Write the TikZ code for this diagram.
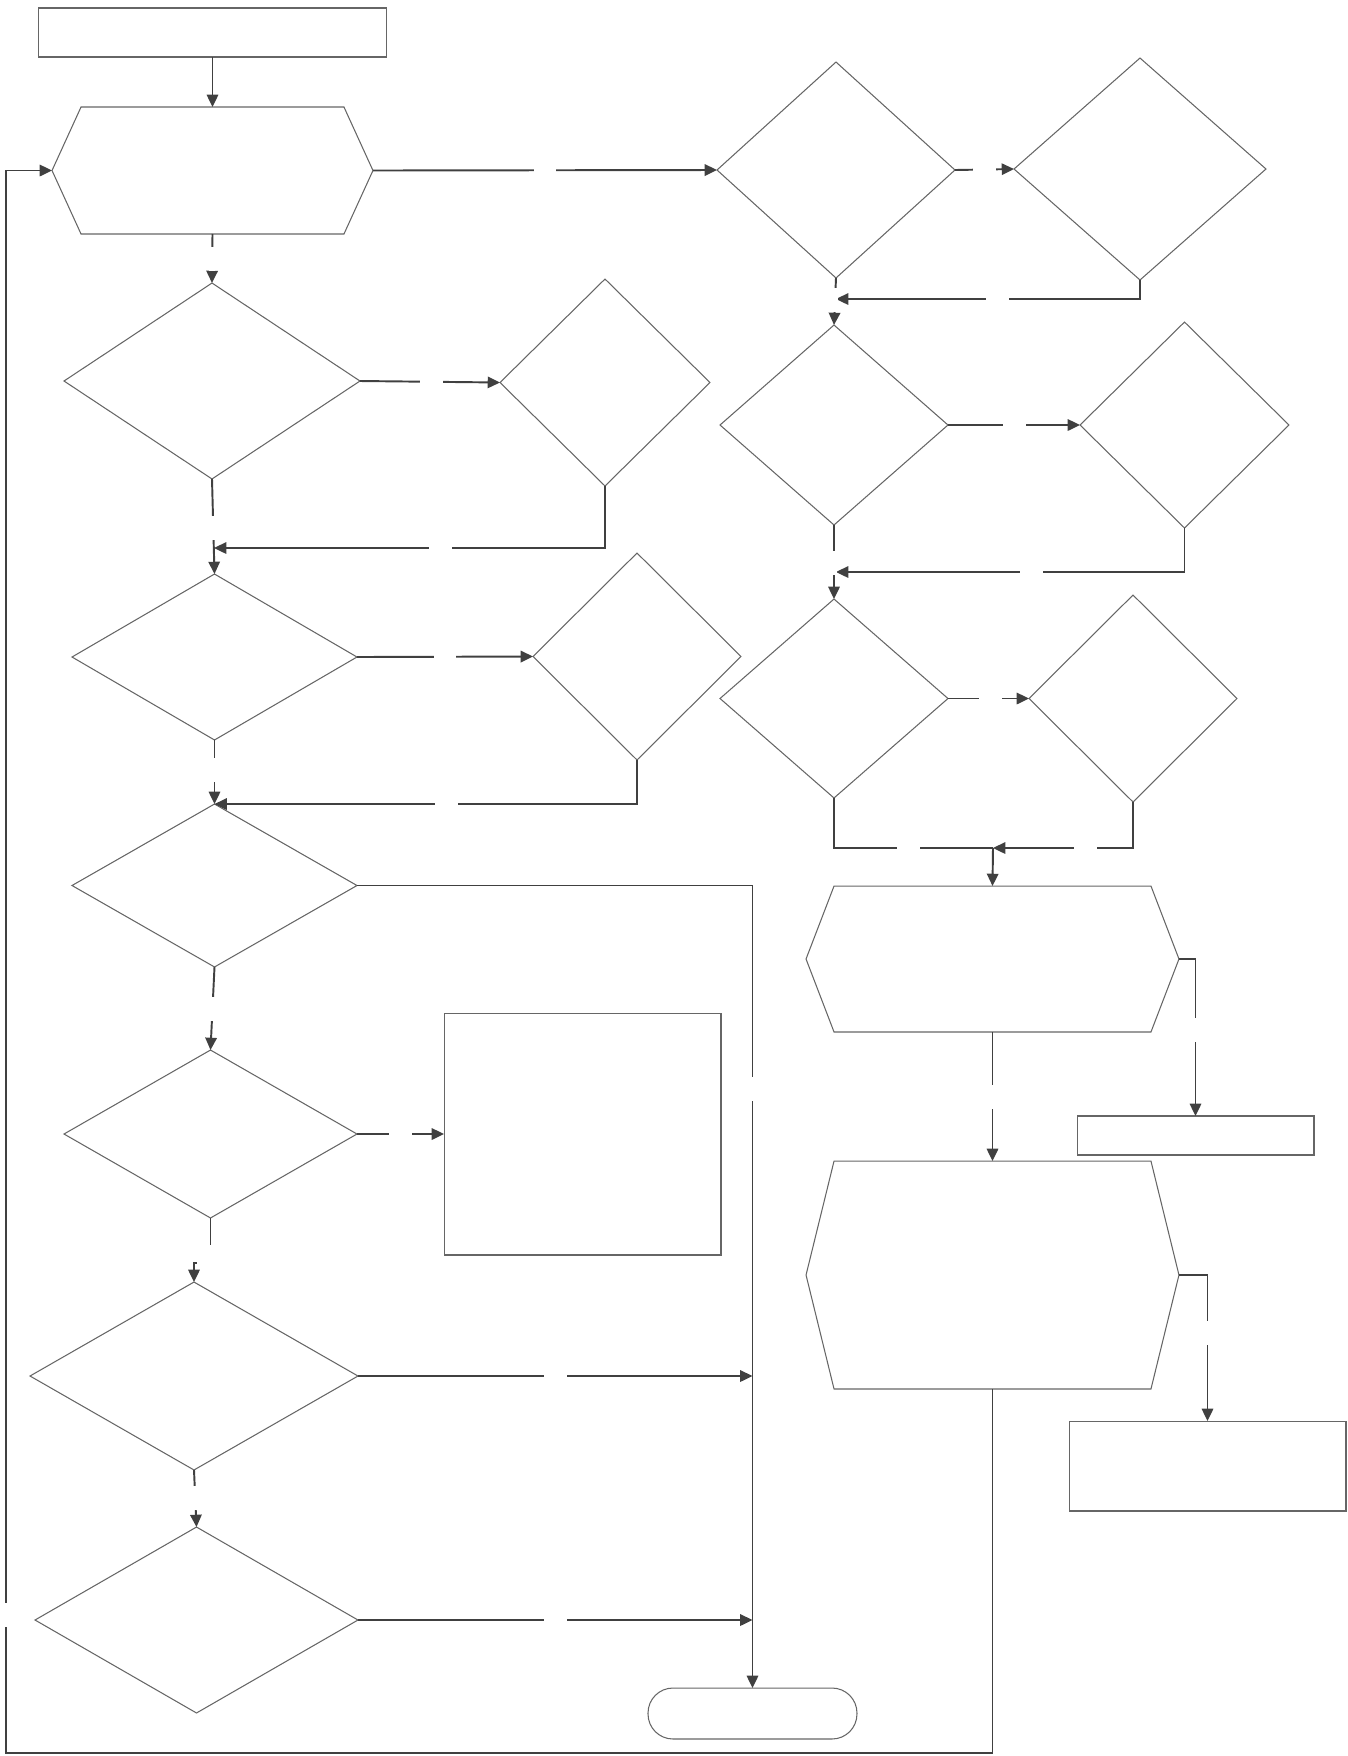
\documentclass[tikz,border=0pt]{standalone}
\usepackage{tikz}
\usetikzlibrary{arrows.meta,shapes.geometric}

\begin{document}
\begin{tikzpicture}[
  x=0.02cm, y=-0.02cm,
  shp/.style={draw=black!60, line width=0.6pt, inner sep=0pt, outer sep=0pt},
  box/.style={shp, rectangle},
  dec/.style={shp, diamond},
  hexbox/.style={rectangle, inner sep=0pt, outer sep=0pt},
  term/.style={shp, rectangle, rounded corners=0.5cm},
  arr/.style={-{Triangle[length=7pt,width=6.5pt]}, draw=black!75, line width=1.1pt},
  lnk/.style={draw=black!75, line width=1.1pt},
  gaph/.style={fill=white, inner sep=0pt, outer sep=0pt, minimum width=0.46cm, minimum height=0.12cm},
  gapv/.style={fill=white, inner sep=0pt, outer sep=0pt, minimum width=0.12cm, minimum height=0.48cm},
]
  \useasboundingbox (0,0) rectangle (1348,1756);

  %% left column
  \node[box, minimum width=6.98cm, minimum height=0.98cm] (T) at (212.5,32.5) {};
  \node[hexbox, minimum width=6.42cm, minimum height=2.54cm] (H1) at (212.5,170.5) {};
  \node[dec, minimum width=5.92cm, minimum height=3.92cm] (D1)  at (212,381) {};
  \node[dec, minimum width=4.2cm,  minimum height=4.14cm] (D1R) at (605,382.5) {};
  \node[dec, minimum width=5.7cm,  minimum height=3.32cm] (D2)  at (214.5,657) {};
  \node[dec, minimum width=4.16cm, minimum height=4.14cm] (D2R) at (637,656.5) {};
  \node[dec, minimum width=5.7cm,  minimum height=3.26cm] (D3)  at (214.5,885.5) {};
  \node[dec, minimum width=5.86cm, minimum height=3.36cm] (D4)  at (210.5,1134) {};
  \node[box, minimum width=5.54cm, minimum height=4.84cm] (R4)  at (582.5,1134) {};
  \node[dec, minimum width=6.56cm, minimum height=3.76cm] (D5)  at (194,1376) {};
  \node[dec, minimum width=6.46cm, minimum height=3.72cm] (D6)  at (196.5,1620) {};
  \node[term, minimum width=4.18cm, minimum height=1.02cm] (E) at (752.5,1713.5) {};

  %% right column
  \node[dec, minimum width=4.76cm, minimum height=4.32cm] (RA) at (836,170) {};
  \node[dec, minimum width=5.04cm, minimum height=4.44cm] (RB) at (1140,169) {};
  \node[dec, minimum width=4.56cm, minimum height=4.0cm]  (RC) at (834,425) {};
  \node[dec, minimum width=4.18cm, minimum height=4.12cm] (RD) at (1184.5,425) {};
  \node[dec, minimum width=4.56cm, minimum height=3.98cm] (RE) at (834,698.5) {};
  \node[dec, minimum width=4.16cm, minimum height=4.14cm] (RF) at (1133,698.5) {};
  \node[hexbox, minimum width=7.46cm, minimum height=2.92cm] (H2) at (992.5,959) {};
  \node[box, minimum width=4.74cm, minimum height=0.78cm] (R5) at (1195.5,1135.5) {};
  \node[hexbox, minimum width=7.46cm, minimum height=4.56cm] (H3) at (992.5,1275) {};
  \node[box, minimum width=5.54cm, minimum height=1.8cm] (R6) at (1207.5,1466) {};

  % hexagon outlines
  \foreach \h/\c in {H1/29, H2/28, H3/28}
    \draw[shp] (\h.west) -- ([xshift=\c*0.02cm]\h.north west) -- ([xshift=-\c*0.02cm]\h.north east)
      -- (\h.east) -- ([xshift=-\c*0.02cm]\h.south east) -- ([xshift=\c*0.02cm]\h.south west) -- cycle;

  \coordinate (jA) at (836,299);
  \coordinate (jB) at (836,572);
  \coordinate (jC) at (214,548);
  \coordinate (jD) at (993,848);
  \coordinate (c1) at (6,1753);

  %% connectors, left
  \draw[arr] (T) -- (H1);
  \draw[arr] (H1.south) -- node[gapv]{} (D1.north);
  \draw[arr] (D1.east) -- node[gaph, pos=0.51]{} (D1R.west);
  \draw[arr] (D1.south) -- node[gapv, pos=0.52]{} (D2.north);
  \draw[arr] (D1R.south) |- node[gaph, pos=0.71]{} (jC);
  \draw[arr] (D2.east) -- node[gaph]{} (D2R.west);
  \draw[arr] (D2.south) -- node[gapv, pos=0.47]{} (D3.north);
  \draw[arr] (D2R.south) |- node[gaph, pos=0.725]{} (D3.north);
  \draw[arr] (D3.east) -| node[gapv, pos=0.627]{} (E.north);
  \draw[arr] (D3.south) -- node[gapv, pos=0.51]{} (D4.north);
  \draw[arr] (D4.east) -- node[gaph]{} (R4.west);
  \draw[arr] (D4.south) -- ++(0,45) coordinate (k) -| (D5.north);
  \node[fill=white, inner sep=0pt, minimum width=0.3cm, minimum height=0.44cm] at ([shift={(-6,-7)}]k) {};
  \draw[arr] (D5.south) -- node[gapv, pos=0.49]{} (D6.north);
  \draw[arr] (D5.east) -- node[gaph]{} (E.north |- D5.east);
  \draw[arr] (D6.east) -- node[gaph]{} (E.north |- D6.east);

  %% connectors, right
  \draw[arr] (H1.east) -- node[gaph]{} (RA.west);
  \draw[arr] (RA.east) -- node[gaph]{} (RB.west);
  \draw[arr] (RB.south) |- node[gaph, pos=0.735]{} (jA);
  \draw[arr] (RA.south) -- node[gapv, pos=0.47]{} (RC.north);
  \draw[arr] (RC.east) -- node[gaph]{} (RD.west);
  \draw[arr] (RD.south) |- node[gaph, pos=0.72]{} (jB);
  \draw[arr] (RC.south) -- node[gapv, pos=0.51]{} (RE.north);
  \draw[arr] (RE.east) -- node[gaph, pos=0.52]{} (RF.west);
  \draw[lnk] (RE.south) |- node[gaph, pos=0.735]{} (jD);
  \draw[arr] (RF.south) |- node[gaph, pos=0.67]{} (jD);
  \draw[arr] (jD) -- (H2.north);
  \draw[arr] (H2.east) -| node[gapv, pos=0.725]{} (R5.north);
  \draw[arr] (H2.south) -- node[gapv]{} (H3.north);
  \draw[arr] (H3.east) -| node[gapv, pos=0.7]{} (R6.north);

  %% loop back
  \draw[arr] (H3.south) -- (H3.south |- c1) -- (c1) -- node[gapv, pos=0.0875]{} (c1 |- H1.west) -- (H1.west);
\end{tikzpicture}
\end{document}
